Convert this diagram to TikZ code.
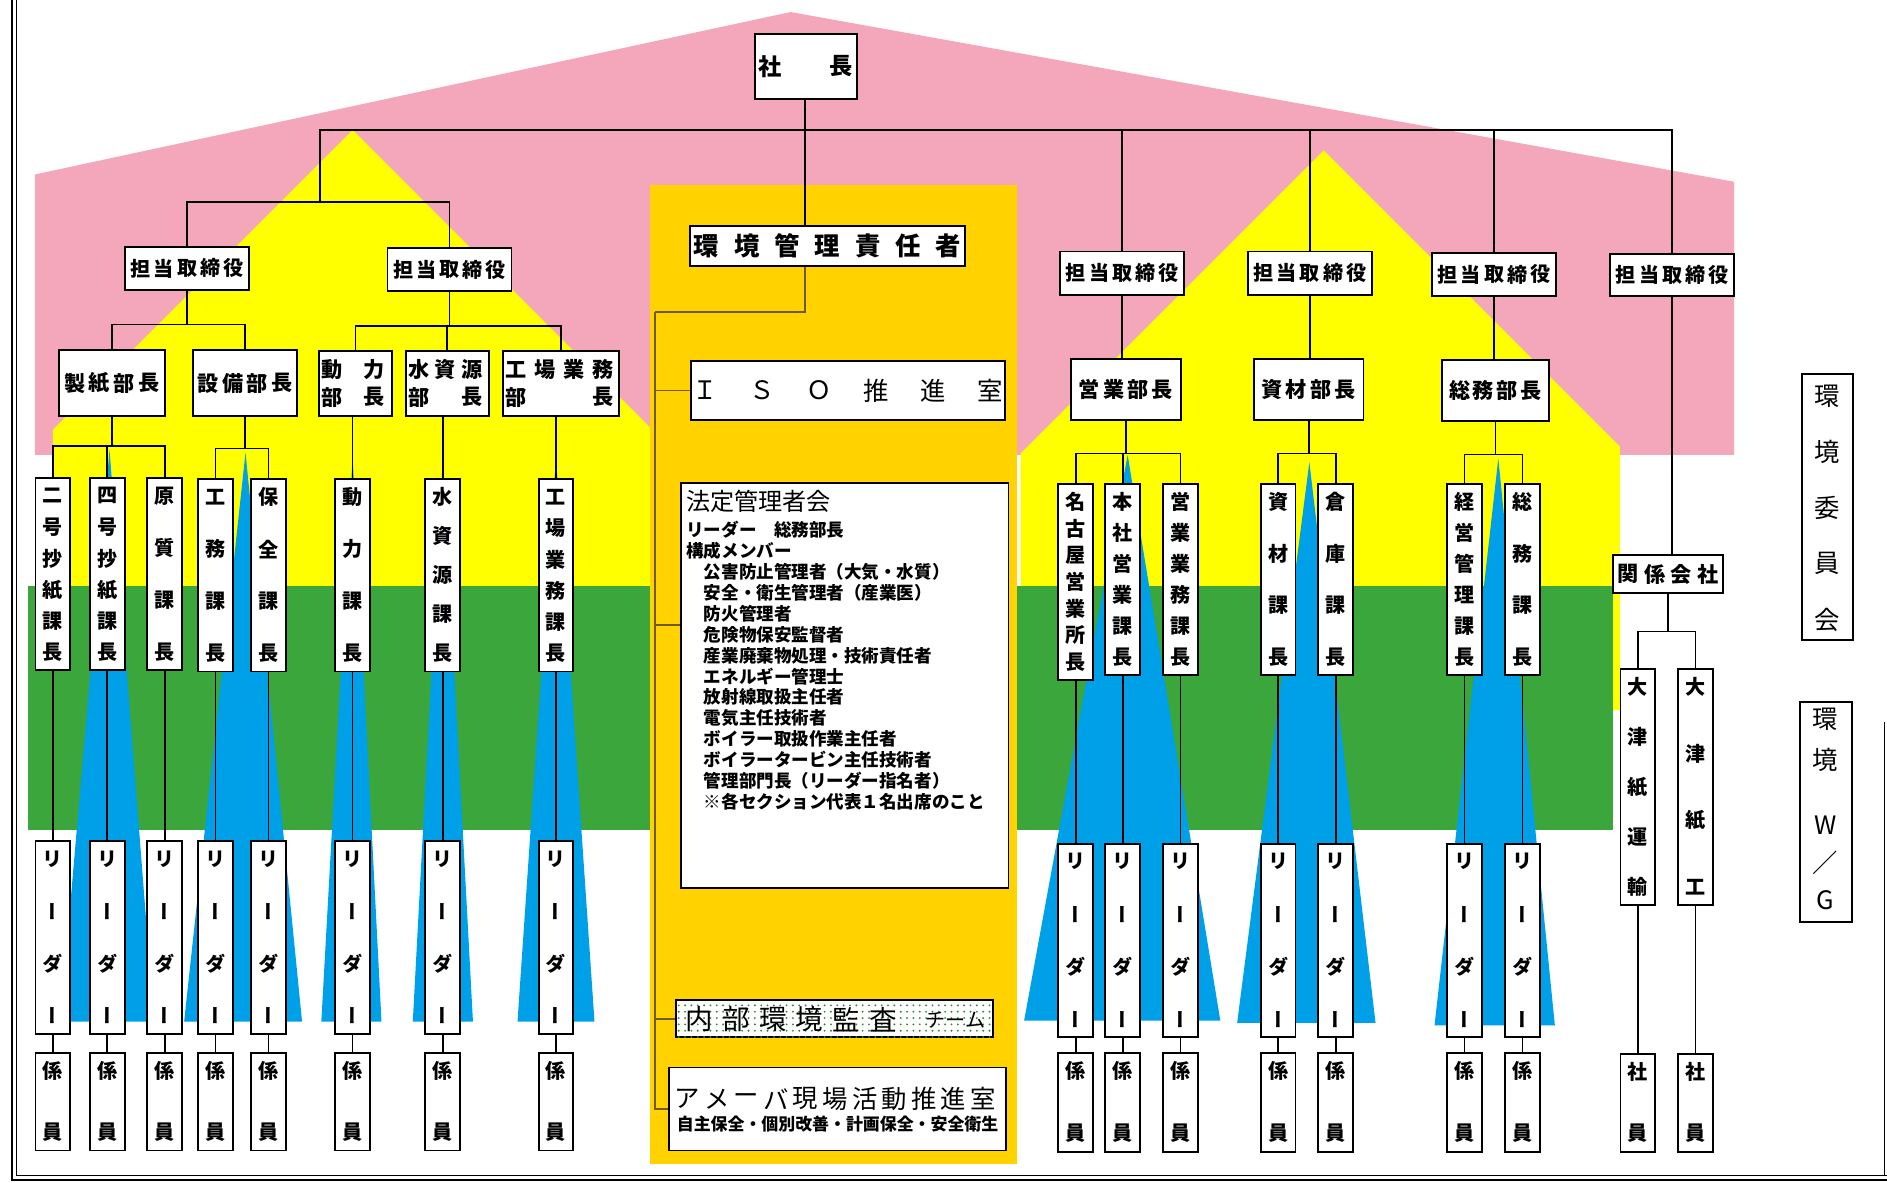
\documentclass[tikz,border=0pt]{standalone}
\usepackage{fontspec}
\usetikzlibrary{patterns}
\newfontfamily\jp{Noto Sans CJK JP}
\newfontfamily\jpv[RawFeature=+vert]{Noto Sans CJK JP}
\definecolor{roof}{HTML}{F4A6BA}
\definecolor{hill}{HTML}{FFFF00}
\definecolor{field}{HTML}{3AA63C}
\definecolor{core}{HTML}{FFD200}
\definecolor{spike}{HTML}{00A0E9}
\definecolor{spine}{HTML}{6E5A1A}
\definecolor{dotc}{HTML}{2E8B3A}

\begin{document}
\begin{tikzpicture}[x=0.02cm, y=-0.02cm,
  orgbox/.style={draw=black, line width=0.9pt, fill=white, inner sep=0pt},
  moji/.style={inner sep=0pt, font=\jp\bfseries\fontsize{10}{10}\selectfont},
  tatemoji/.style={inner sep=0pt, font=\jpv\bfseries\fontsize{9.5}{9.5}\selectfont},
  link/.style={line width=0.7pt},
  spinelink/.style={draw=spine, line width=0.9pt}]
\newcommand{\orgcell}[5]{%
  \node[orgbox, minimum width={(#4-#2)*0.02cm}, minimum height={(#5-#3)*0.02cm}]
    (#1) at ({(#2+#4)/2},{(#3+#5)/2}) {};}
\newcommand{\rowglyphs}[6]{%
  \foreach \c [count=\i] in {#6}
    \node[moji] (#1-\i) at ({(#2)+(\i-1)*((#3)-(#2))/(#5-1)},{#4}) {\c};}
\newcommand{\colglyphs}[6]{%
  \foreach \c [count=\i] in {#6}
    \node[tatemoji] (#1-\i) at (#2,{(#3)+(\i-1)*((#4)-(#3))/(#5-1)}) {\c};}
\newcommand{\yokobox}[8]{%
  \orgcell{#1}{#2}{#3}{#4}{#5}\rowglyphs{#1}{#2+#6}{#4-#6}{(#3+#5)/2}{#7}{#8}}
\newcommand{\tatebox}[6]{%
  \node[orgbox, minimum width=0.58cm, minimum height={(#4-#3)*0.02cm}] (#1) at (#2,{(#3+#4)/2}) {};
  \colglyphs{#1}{#2}{#3+15}{#4-15}{#5}{#6}}
\useasboundingbox (0,0) rectangle (1568,983);
% background bands
\fill[roof] (29,145) -- (657,10) -- (1441,151) -- (1441,378) -- (29,378) -- cycle;
\fill[hill] (293,108) -- (545,360) -- (545,488) -- (44,488) -- (44,357) -- cycle;
\fill[hill] (1100,125) -- (1346,371) -- (1346,590) -- (848,590) -- (848,377) -- cycle;
\fill[field] (23,487) rectangle (1340,690);
\foreach \ax/\ay/\bl/\br/\by in {91/374/50/128/849, 204/376/153/251/849,
    293/380/267/317/849, 368/380/343/393/849, 462/380/430/494/849,
    937/378/851/1014/848, 1088/384/1028/1143/850, 1245/381/1192/1292/852}
  \fill[spike] (\ax,\ay) -- (\bl,\by) -- (\br,\by) -- cycle;
\fill[core] (540,154) rectangle (845,967);
% frame
\draw[line width=0.6pt] (10,0) -- (10,980.5) -- (1568,980.5);
\draw[line width=0.6pt] (13.5,0) -- (13.5,977) -- (1568,977);
\draw[line width=0.6pt] (1566,600) -- (1566,977);

% top and management
\begin{scope}[moji/.style={inner sep=0pt, font=\jp\bfseries\fontsize{11}{11}\selectfont}]
\yokobox{shachou}{627}{28}{712}{82}{13}{2}{社,長}
\end{scope}
\begin{scope}[moji/.style={inner sep=0pt, font=\jp\bfseries\fontsize{12}{12}\selectfont}]
\yokobox{sekinin}{573}{188}{802}{221}{14}{7}{環,境,管,理,責,任,者}
\end{scope}
\begin{scope}[moji/.style={inner sep=0pt, font=\jp\fontsize{12}{12}\selectfont}]
\yokobox{iso}{574}{300}{835}{349}{12}{6}{Ｉ,Ｓ,Ｏ,推,進,室}
\end{scope}
\begin{scope}[moji/.style={inner sep=0pt, font=\jp\bfseries\fontsize{9.5}{9.5}\selectfont}]
\yokobox{tan1}{104}{205}{207}{241}{13}{5}{担,当,取,締,役}
\yokobox{tan2}{322}{206}{425}{242}{13}{5}{担,当,取,締,役}
\yokobox{tan3}{881}{209}{984}{245}{13}{5}{担,当,取,締,役}
\yokobox{tan4}{1037}{209}{1140}{245}{13}{5}{担,当,取,締,役}
\yokobox{tan5}{1190}{210}{1293}{246}{13}{5}{担,当,取,締,役}
\yokobox{tan6}{1338}{211}{1441}{246}{13}{5}{担,当,取,締,役}
\end{scope}

% departments
\yokobox{seishi}{49}{291}{137}{346}{13}{4}{製,紙,部,長}
\yokobox{setsubi}{160}{291}{247}{346}{13}{4}{設,備,部,長}
\orgcell{douryokubu}{265}{292}{326}{346}
\rowglyphs{douryokubu-a}{276}{311}{307}{2}{動,力}
\rowglyphs{douryokubu-b}{276}{311}{330}{2}{部,長}
\orgcell{mizubu}{337}{292}{406}{346}
\rowglyphs{mizubu-a}{348}{392}{307}{3}{水,資,源}
\rowglyphs{mizubu-b}{348}{392}{330}{2}{部,長}
\orgcell{koujoubu}{418}{292}{514}{346}
\rowglyphs{koujoubu-a}{429}{501}{307}{4}{工,場,業,務}
\rowglyphs{koujoubu-b}{429}{501}{330}{2}{部,長}
\yokobox{eigyoubu}{890}{298}{981}{349}{15}{4}{営,業,部,長}
\yokobox{shizaibu}{1042}{298}{1133}{349}{15}{4}{資,材,部,長}
\yokobox{soumubu}{1198}{299}{1287}{350}{15}{4}{総,務,部,長}
\yokobox{kankei}{1340}{461}{1432}{493}{13}{4}{関,係,会,社}

% sections
\tatebox{nigo}{44}{397}{557}{6}{二,号,抄,紙,課,長}
\tatebox{yongo}{89}{397}{557}{6}{四,号,抄,紙,課,長}
\tatebox{genshitsu}{137}{397}{557}{4}{原,質,課,長}
\tatebox{koumu}{179}{398}{558}{4}{工,務,課,長}
\tatebox{hozen}{223}{398}{558}{4}{保,全,課,長}
\tatebox{douryoku}{293}{398}{558}{4}{動,力,課,長}
\tatebox{mizu}{368}{398}{558}{5}{水,資,源,課,長}
\tatebox{koujou}{462}{398}{558}{6}{工,場,業,務,課,長}
\tatebox{nagoya}{894}{402}{565}{7}{名,古,屋,営,業,所,長}
\tatebox{honsha}{933}{402}{561}{6}{本,社,営,業,課,長}
\tatebox{eigyou}{981}{402}{561}{6}{営,業,業,務,課,長}
\tatebox{shizai}{1062}{402}{561}{4}{資,材,課,長}
\tatebox{souko}{1110}{402}{561}{4}{倉,庫,課,長}
\tatebox{keiei}{1217}{402}{561}{6}{経,営,管,理,課,長}
\tatebox{soumu}{1265}{402}{561}{4}{総,務,課,長}
\tatebox{ootsu1}{1361}{556}{752}{5}{大,津,紙,運,輸}
\tatebox{ootsu2}{1409}{556}{752}{4}{大,津,紙,工}
\tatebox{shain1}{1361}{876}{957}{2}{社,員}
\tatebox{shain2}{1409}{876}{957}{2}{社,員}

% leaders and staff
\foreach \nm/\x in {nigo/44, yongo/89, genshitsu/137, koumu/179, hozen/223,
    douryoku/293, mizu/368, koujou/462} {
  \tatebox{\nm-l}{\x}{699}{859}{4}{リ,ー,ダ,ー}
  \tatebox{\nm-g}{\x}{875}{956}{2}{係,員}
  \draw[link] (\nm.south) -- (\nm-l.north);
  \draw[link] (\nm-l.south) -- (\nm-g.north);
}
\foreach \nm/\x in {nagoya/894, honsha/933, eigyou/981, shizai/1062, souko/1110,
    keiei/1217, soumu/1265} {
  \tatebox{\nm-l}{\x}{701}{862}{4}{リ,ー,ダ,ー}
  \tatebox{\nm-g}{\x}{875}{957}{2}{係,員}
  \draw[link] (\nm.south) -- (\nm-l.north);
  \draw[link] (\nm-l.south) -- (\nm-g.north);
}

% committees
\orgcell{iinkai}{1497}{311}{1540}{532}
\orgcell{wg}{1496}{583}{1539}{766}
\begin{scope}[tatemoji/.style={inner sep=0pt, font=\jp\fontsize{12}{12}\selectfont}]
\colglyphs{iinkai}{1518}{329}{515}{5}{環,境,委,員,会}
\foreach \c/\y [count=\i] in {環/598, 境/631, W/686, ／/717, G/748}
  \node[tatemoji] (wg-\i) at (1517,\y) {\c};
\end{scope}

% centre column
\orgcell{houtei}{566}{401}{838}{738}
\node[anchor=west, inner sep=0pt, font=\jp\fontsize{11.4}{12}\selectfont] (houtei-title) at (570,417) {法定管理者会};
\node[anchor=north west, align=left, inner sep=0pt, font=\jp\bfseries\fontsize{8.3}{9.87}\selectfont]
  (houtei-list) at (570,433) {リーダー　総務部長\\構成メンバー\\　公害防止管理者（大気・水質）\\
  　安全・衛生管理者（産業医）\\　防火管理者\\　危険物保安監督者\\　産業廃棄物処理・技術責任者\\
  　エネルギー管理士\\　放射線取扱主任者\\　電気主任技術者\\　ボイラー取扱作業主任者\\
  　ボイラータービン主任技術者\\　管理部門長（リーダー指名者）\\　※各セクション代表１名出席のこと};
\node[orgbox, minimum width={263*0.02cm}, minimum height={31*0.02cm},
  postaction={pattern=dots, pattern color=dotc}] (naibu) at (693.5,846.5) {};
\orgcell{ameba}{556}{887}{836}{956}
\begin{scope}[moji/.style={inner sep=0pt, font=\jp\fontsize{13}{13}\selectfont}]
\rowglyphs{naibu}{581}{734}{847}{6}{内,部,環,境,監,査}
\end{scope}
\node[inner sep=0pt, font=\jp\fontsize{9.5}{9.5}\selectfont] (naibu-t) at (794,848) {チーム};
\begin{scope}[moji/.style={inner sep=0pt, font=\jp\fontsize{12}{12}\selectfont}]
\rowglyphs{ameba}{571}{817}{913}{11}{ア,メ,ー,バ,現,場,活,動,推,進,室}
\end{scope}
\node[inner sep=0pt, font=\jp\bfseries\fontsize{8}{8}\selectfont] (ameba-sub) at (696,934) {自主保全・個別改善・計画保全・安全衛生};

% connectors
\coordinate (bar) at (669,108);
\coordinate (jl) at (266,168);
\coordinate (spinetop) at (544,259);
\draw[link] (shachou.south -| bar) -- (sekinin.north -| bar);
\draw[link] (jl) |- (bar) -| (tan6.north);
\foreach \t in {tan3, tan4, tan5} \draw[link] (\t.north) -- (\t.north |- bar);
\draw[link] (tan1.north) |- (jl) -| (tan2.north);
\draw[link] (tan1.south) -- ++(0,28) coordinate (j1);
\draw[link] (seishi.north) |- (j1) -| (setsubi.north);
\draw[link] (tan2.south) -- ++(0,28) coordinate (j2);
\draw[link] (douryokubu.north) |- (j2) -| (koujoubu.north);
\draw[link] (j2) -| (mizubu.north);
\draw[link] (seishi.south) -- ++(0,24) coordinate (j3);
\draw[link] (nigo.north) |- (j3) -| (genshitsu.north);
\draw[link] (j3) -| (yongo.north);
\draw[link] (setsubi.south) -- ++(0,26) coordinate (j4);
\draw[link] (koumu.north) |- (j4) -| (hozen.north);
\foreach \k/\b in {douryoku/douryokubu, mizu/mizubu, koujou/koujoubu}
  \draw[link] (\k.north) -- (\k.north |- \b.south);
\foreach \b/\t in {eigyoubu/tan3, shizaibu/tan4, soumubu/tan5, kankei/tan6}
  \draw[link] (\t.south) -- (\t.south |- \b.north);
\draw[link] (eigyoubu.south) -- ++(0,27) coordinate (j5);
\draw[link] (nagoya.north) |- (j5) -| (eigyou.north);
\draw[link] (j5) -| (honsha.north);
\draw[link] (shizaibu.south) -- ++(0,27) coordinate (j6);
\draw[link] (shizai.north) |- (j6) -| (souko.north);
\draw[link] (soumubu.south) -- ++(0,27) coordinate (j7);
\draw[link] (keiei.north) |- (j7) -| (soumu.north);
\draw[link] (kankei.south) -- ++(0,31) coordinate (j8);
\draw[link] (ootsu1.north) |- (j8) -| (ootsu2.north);
\draw[link] (ootsu1.south) -- (shain1.north);
\draw[link] (ootsu2.south) -- (shain2.north);
\draw[spinelink] (sekinin.south -| bar) |- (spinetop);
\draw[spinelink] (spinetop) |- (ameba.west);
\draw[spinelink] (spinetop) |- (iso.west);
\draw[spinelink] (spinetop) |- (houtei.160);
\draw[spinelink] (spinetop) |- (naibu.west);
\end{tikzpicture}
\end{document}
